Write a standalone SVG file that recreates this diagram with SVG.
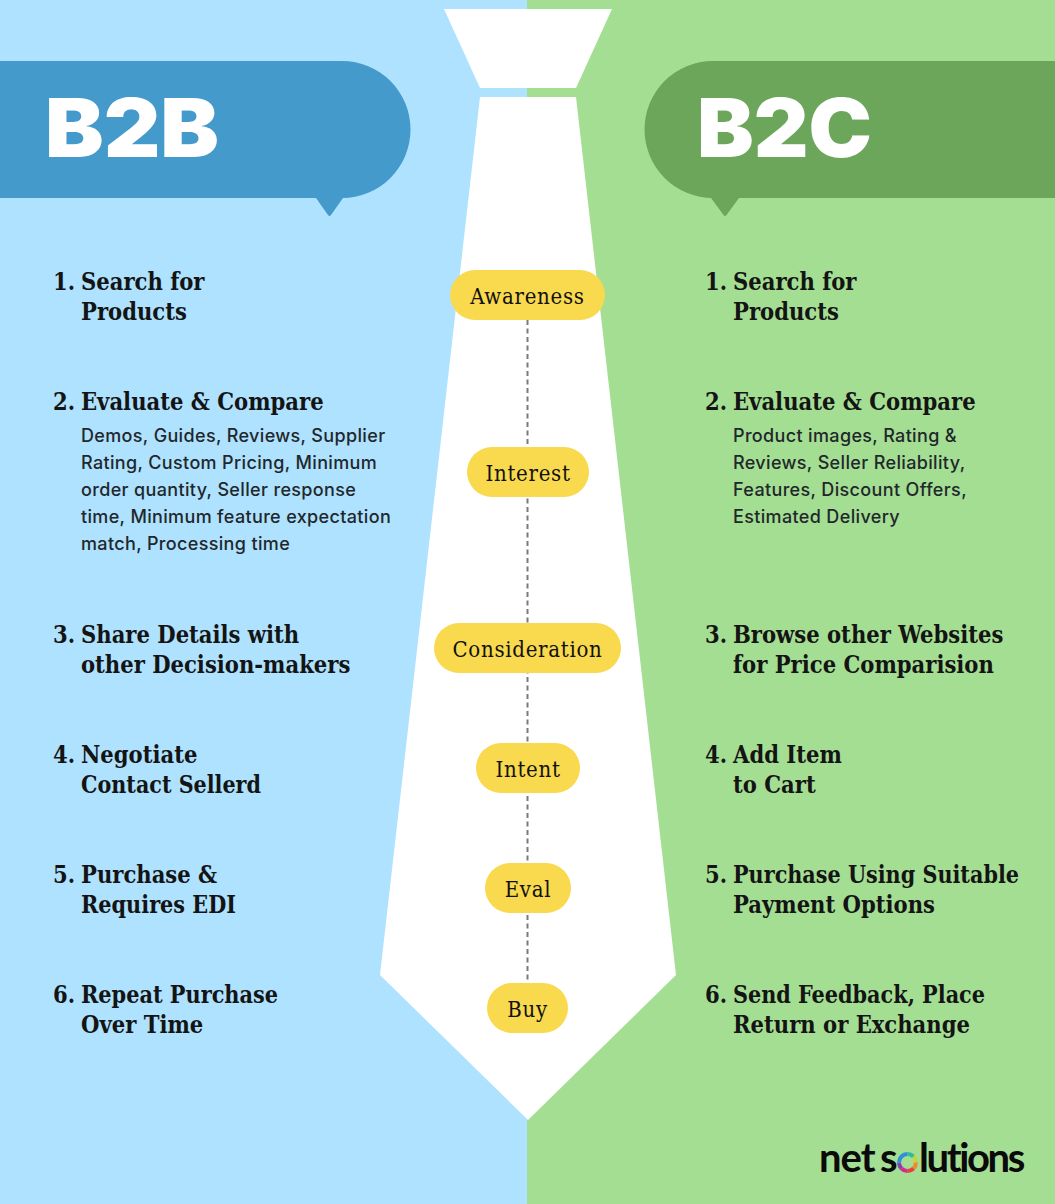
<svg xmlns="http://www.w3.org/2000/svg" width="1055" height="1204" viewBox="0 0 1055 1204">
<defs>
<style>
.h{font-family:"DejaVu Serif Condensed","DejaVu Serif",serif;font-stretch:condensed;font-weight:700;font-size:23.500px;fill:#141414}
.s{font-family:"Inter","Liberation Sans",sans-serif;font-weight:500;font-size:18px;letter-spacing:.35px;fill:#22272b}
.p{fill:#f9d94e}
.l{font-family:"DejaVu Serif Condensed","DejaVu Serif",serif;font-stretch:condensed;font-size:22px;letter-spacing:.7px;fill:#111;text-anchor:middle}
.t{font-family:"Inter","Liberation Sans",sans-serif;font-weight:900;font-size:81px;fill:#fff}
.g{font-family:"Lato",sans-serif;font-weight:700;font-size:40px;fill:#0a0a0a}
.r{fill:none;stroke-width:4}
</style>
</defs>
<g id="background">
<rect x="0" y="0" width="527" height="1204" fill="#aee2ff"/>
<rect x="527" y="0" width="528" height="1204" fill="#a4de93"/>
</g>
<g id="tie">
<path d="M444 9H612L576 88H480Z" fill="#fff"/>
<path d="M480 97H576L676 975L528 1120L380 975Z" fill="#fff"/>
</g>
<g id="connectors">
<path d="M527.500 320V1000" fill="none" stroke="#7a7a7a" stroke-width="2" stroke-dasharray="5 3.500"/>
</g>
<g id="header-b2b">
<path d="M0 61H342A68.500 68.500 0 0 1 342 198H343L331 215Q329.500 217 328 215L316 198H0Z" fill="#439acb"/>
<text class="t" x="45" y="157" textLength="174" lengthAdjust="spacingAndGlyphs">B2B</text>
</g>
<g id="header-b2c">
<path d="M1055 61H713A68.500 68.500 0 0 0 713 198H711L723.500 215Q725 217 726.500 215L739 198H1055Z" fill="#6ba65b"/>
<text class="t" x="697" y="157" textLength="175" lengthAdjust="spacingAndGlyphs">B2C</text>
</g>
<g id="stage-awareness"><rect class="p" x="450" y="270" width="155" height="50" rx="25"/><text class="l" x="527.500" y="304">Awareness</text></g>
<g id="stage-interest"><rect class="p" x="467" y="447" width="122" height="50" rx="25"/><text class="l" x="528" y="481">Interest</text></g>
<g id="stage-consideration"><rect class="p" x="434" y="623" width="187" height="50" rx="25"/><text class="l" x="527.500" y="657">Consideration</text></g>
<g id="stage-intent"><rect class="p" x="476" y="743" width="104" height="50" rx="25"/><text class="l" x="528" y="777">Intent</text></g>
<g id="stage-eval"><rect class="p" x="485" y="863" width="86" height="50" rx="25"/><text class="l" x="528" y="897">Eval</text></g>
<g id="stage-buy"><rect class="p" x="487" y="983" width="81" height="50" rx="25"/><text class="l" x="527.500" y="1017">Buy</text></g>
<g id="b2b-steps">
<g id="b2b-1"><text class="h" x="53" y="289.500">1.</text><text class="h" x="81" y="289.500">Search for</text><text class="h" x="81" y="319.500">Products</text></g>
<g id="b2b-2"><text class="h" x="53" y="409.500">2.</text><text class="h" x="81" y="409.500">Evaluate &amp; Compare</text>
<text class="s" x="81" y="442">Demos, Guides, Reviews, Supplier</text>
<text class="s" x="81" y="469">Rating, Custom Pricing, Minimum</text>
<text class="s" x="81" y="496">order quantity, Seller response</text>
<text class="s" x="81" y="523">time, Minimum feature expectation</text>
<text class="s" x="81" y="550">match, Processing time</text></g>
<g id="b2b-3"><text class="h" x="53" y="642.500">3.</text><text class="h" x="81" y="642.500">Share Details with</text><text class="h" x="81" y="672.500">other Decision-makers</text></g>
<g id="b2b-4"><text class="h" x="53" y="762.500">4.</text><text class="h" x="81" y="762.500">Negotiate</text><text class="h" x="81" y="792.500" textLength="180" lengthAdjust="spacingAndGlyphs">Contact Sellerd</text></g>
<g id="b2b-5"><text class="h" x="53" y="882.500">5.</text><text class="h" x="81" y="882.500">Purchase &amp;</text><text class="h" x="81" y="912.500" textLength="155" lengthAdjust="spacingAndGlyphs">Requires EDI</text></g>
<g id="b2b-6"><text class="h" x="53" y="1002.500">6.</text><text class="h" x="81" y="1002.500" textLength="197" lengthAdjust="spacingAndGlyphs">Repeat Purchase</text><text class="h" x="81" y="1032.500">Over Time</text></g>
</g>
<g id="b2c-steps">
<g id="b2c-1"><text class="h" x="705" y="289.500">1.</text><text class="h" x="733" y="289.500">Search for</text><text class="h" x="733" y="319.500">Products</text></g>
<g id="b2c-2"><text class="h" x="705" y="409.500">2.</text><text class="h" x="733" y="409.500">Evaluate &amp; Compare</text>
<text class="s" x="733" y="442">Product images, Rating &amp;</text>
<text class="s" x="733" y="469">Reviews, Seller Reliability,</text>
<text class="s" x="733" y="496">Features, Discount Offers,</text>
<text class="s" x="733" y="523">Estimated Delivery</text></g>
<g id="b2c-3"><text class="h" x="705" y="642.500">3.</text><text class="h" x="733" y="642.500">Browse other Websites</text><text class="h" x="733" y="672.500">for Price Comparision</text></g>
<g id="b2c-4"><text class="h" x="705" y="762.500">4.</text><text class="h" x="733" y="762.500">Add Item</text><text class="h" x="733" y="792.500">to Cart</text></g>
<g id="b2c-5"><text class="h" x="705" y="882.500">5.</text><text class="h" x="733" y="882.500" textLength="286" lengthAdjust="spacingAndGlyphs">Purchase Using Suitable</text><text class="h" x="733" y="912.500">Payment Options</text></g>
<g id="b2c-6"><text class="h" x="705" y="1002.500">6.</text><text class="h" x="733" y="1002.500" textLength="252" lengthAdjust="spacingAndGlyphs">Send Feedback, Place</text><text class="h" x="733" y="1032.500">Return or Exchange</text></g>
</g>
<g id="logo">
<text class="g" y="1172"><tspan x="819" letter-spacing="-1">net</tspan><tspan x="880"> </tspan><tspan x="880">s</tspan><tspan x="897" fill="none">o</tspan><tspan x="919" letter-spacing="-2.400">lutions</tspan></text>
<path class="r" stroke="#8a3fb0" d="M901.500 1168.500A8.500 8.500 0 0 1 899 1162.500"/>
<path class="r" stroke="#2f8fd6" d="M899 1162.500A8.500 8.500 0 0 1 907.500 1154"/>
<path class="r" stroke="#35b8a0" d="M907.500 1154A8.500 8.500 0 0 1 913.500 1156.500"/>
<path class="r" stroke="#c8d232" d="M913.500 1156.500A8.500 8.500 0 0 1 916 1162.500"/>
<path class="r" stroke="#f08a2e" d="M916 1162.500A8.500 8.500 0 0 1 913.500 1168.500"/>
<path class="r" stroke="#e8403f" d="M913.500 1168.500A8.500 8.500 0 0 1 907.500 1171"/>
<path class="r" stroke="#d9278a" d="M907.500 1171A8.500 8.500 0 0 1 901.500 1168.500"/>
</g>
</svg>
